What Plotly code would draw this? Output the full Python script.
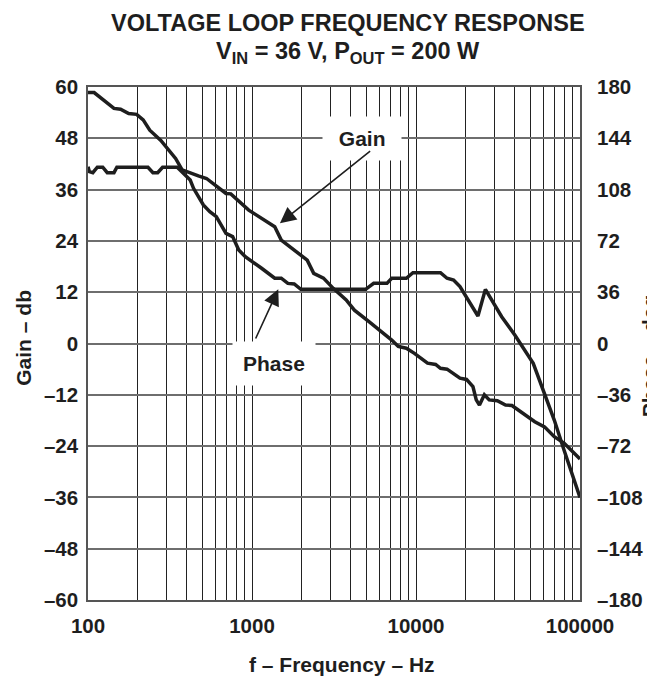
import plotly.graph_objects as go

# 增益曲线 (dB, 左轴)
freq_gain = [100, 109, 144, 158, 177, 198, 217, 238, 278, 305, 342, 375, 420, 471, 528,
             578, 694, 743, 955, 1376, 1508, 2171, 2378, 2728, 3128, 3752, 4211, 5168,
             7112, 7796, 8730, 9782, 11755, 13170, 14105, 15460, 18540, 20320, 22240,
             23300, 24380, 26110, 27960, 31320, 35140, 38460, 52990, 60770, 69670,
             79890, 100000]
gain_db = [58.7, 58.7, 55.0, 54.8, 53.8, 53.6, 52.3, 49.9, 47.5, 45.7, 43.3, 40.6, 39.8,
           39.2, 38.6, 37.5, 35.1, 35.0, 31.2, 27.3, 24.2, 19.5, 16.4, 15.3, 12.9, 10.2,
           7.8, 5.1, 0.8, -0.7, -1.1, -2.3, -4.6, -4.9, -5.8, -6.0, -8.1, -8.4, -10.1,
           -13.2, -14.4, -12.0, -13.2, -13.4, -14.4, -14.5, -18.3, -19.5, -21.8, -23.3,
           -27.0]

# 相位曲线 (deg, 右轴)
freq_phase = [100, 102, 107, 114, 123, 131, 144, 150, 232, 249, 266, 285, 350, 375, 420,
              440, 505, 553, 606, 694, 762, 830, 910, 1144, 1376, 1508, 1654, 1809, 1985,
              4930, 5520, 6651, 7112, 8730, 9580, 14105, 15460, 16950, 18540, 23860,
              26490, 33300, 40040, 51860, 60770, 69670, 79890, 100000]
phase_deg = [124, 120.6, 119.9, 123.7, 123.7, 119.9, 119.9, 123.7, 123.7, 119.9, 119.9,
             123.7, 123.7, 120.6, 114.7, 108.9, 97.2, 92.5, 89.0, 77.3, 75.0, 65.6, 60.9,
             52.8, 45.8, 45.8, 42.2, 41.8, 38.0, 38.0, 42.2, 42.2, 45.8, 45.8, 49.7, 49.7,
             45.8, 44.6, 39.9, 19.3, 38.0, 18.8, 6.0, -13.9, -35.0, -53.7, -74.7, -108]

# 坐标轴刻度
x_ticks = [100, 1000, 10000, 100000]
x_labels = ["100", "1000", "10000", "100000"]
x_minor = [m * 10 ** d for d in (2, 3, 4) for m in range(2, 10)]
gain_ticks = [60, 48, 36, 24, 12, 0, -12, -24, -36, -48, -60]
gain_labels = ["60", "48", "36", "24", "12", "0", "–12", "–24", "–36", "–48", "–60"]
phase_ticks = [180, 144, 108, 72, 36, 0, -36, -72, -108, -144, -180]
phase_labels = ["180", "144", "108", "72", "36", "0", "–36", "–72", "–108", "–144", "–180"]

FONT = "Liberation Sans, Arial, sans-serif"
INK = "#1e1e1e"
OFF = 8  # 页面 body 默认边距
W, H = 655 - OFF, 677 - OFF
L, T = 88 - OFF, 87 - OFF
R, B = W - (593 - OFF), H - (600 - OFF)
PW, PH = W - L - R, H - T - B


def px(x, y):
    """页面像素位置 -> paper 坐标"""
    return (x - OFF - L) / PW, (H - B - (y - OFF)) / PH


def label(text, x, y, size=21, angle=0, **kw):
    lx, ly = px(x, y)
    return dict(xref="paper", yref="paper", x=lx, y=ly, xanchor="center", yanchor="middle",
                showarrow=False, text=text, textangle=angle,
                font=dict(family=FONT, size=size, color=INK, weight="bold"), **kw)


fig = go.Figure()

fig.add_trace(go.Scatter(x=freq_gain, y=gain_db, mode="lines", name="Gain",
                         line=dict(color=INK, width=3.5), yaxis="y"))
fig.add_trace(go.Scatter(x=freq_phase, y=phase_deg, mode="lines", name="Phase",
                         line=dict(color=INK, width=3.5), yaxis="y2"))

tickfont = dict(family=FONT, size=20.5, color=INK, weight="bold")

fig.update_layout(
    width=W, height=H,
    margin=dict(l=L, r=R, t=T, b=B),
    paper_bgcolor="white", plot_bgcolor="white",
    showlegend=False,
    font=dict(family=FONT, color=INK, weight="bold"),
    xaxis=dict(
        type="log", range=[2, 5],
        tickvals=x_ticks, ticktext=x_labels, tickfont=tickfont,
        ticks="", ticklabelstandoff=7,
        showgrid=True, gridcolor="#222", gridwidth=1,
        minor=dict(tickvals=x_minor, showgrid=True, gridcolor="#222", gridwidth=1),
        showline=True, linecolor="#555", linewidth=1.5, mirror=True,
        zeroline=False,
    ),
    yaxis=dict(
        range=[-60, 60], tickvals=gain_ticks, ticktext=gain_labels, tickfont=tickfont,
        ticks="", ticklabelstandoff=4,
        showgrid=True, gridcolor="#6e6e6e", gridwidth=1.5,
        showline=True, linecolor="#555", linewidth=1.5, mirror=True,
        zeroline=False,
    ),
    yaxis2=dict(
        range=[-180, 180], tickvals=phase_ticks, ticktext=phase_labels, tickfont=tickfont,
        ticks="", ticklabelstandoff=16,
        overlaying="y", side="right", showgrid=False, zeroline=False,
    ),
)

ann = [
    # 标题 (两行)
    label("VOLTAGE LOOP FREQUENCY RESPONSE", 355, 23, size=23.5),
    label("V<sub>IN</sub> = 36 V, P<sub>OUT</sub> = 200 W", 355, 52, size=23.5),
    # 轴标题
    label("f – Frequency – Hz", 349, 664),
    label("Gain – db", 21, 338, angle=-90),
    label("Phase – deg", 664, 356, angle=-90),
    # 曲线标签 (白底)
    label("&nbsp;Gain&nbsp;", 369.5, 138.5, bgcolor="white", borderpad=10),
    label("Phase", 279, 363.5, bgcolor="white", borderpad=10),
]

# 箭头: 尖端 -> 尾部
for (tipx, tipy), (tailx, taily) in [((285, 223.3), (376.7, 150)),
                                     ((283.3, 289.3), (260, 340))]:
    ax0, ay0 = px(tipx, tipy)
    ann.append(dict(xref="paper", yref="paper", x=ax0, y=ay0, text="",
                    showarrow=True, arrowhead=2, arrowsize=2, arrowwidth=1.6,
                    arrowcolor=INK, ax=tailx - tipx, ay=taily - tipy, standoff=0))

fig.update_layout(annotations=ann)

fig.write_html("out.html")
